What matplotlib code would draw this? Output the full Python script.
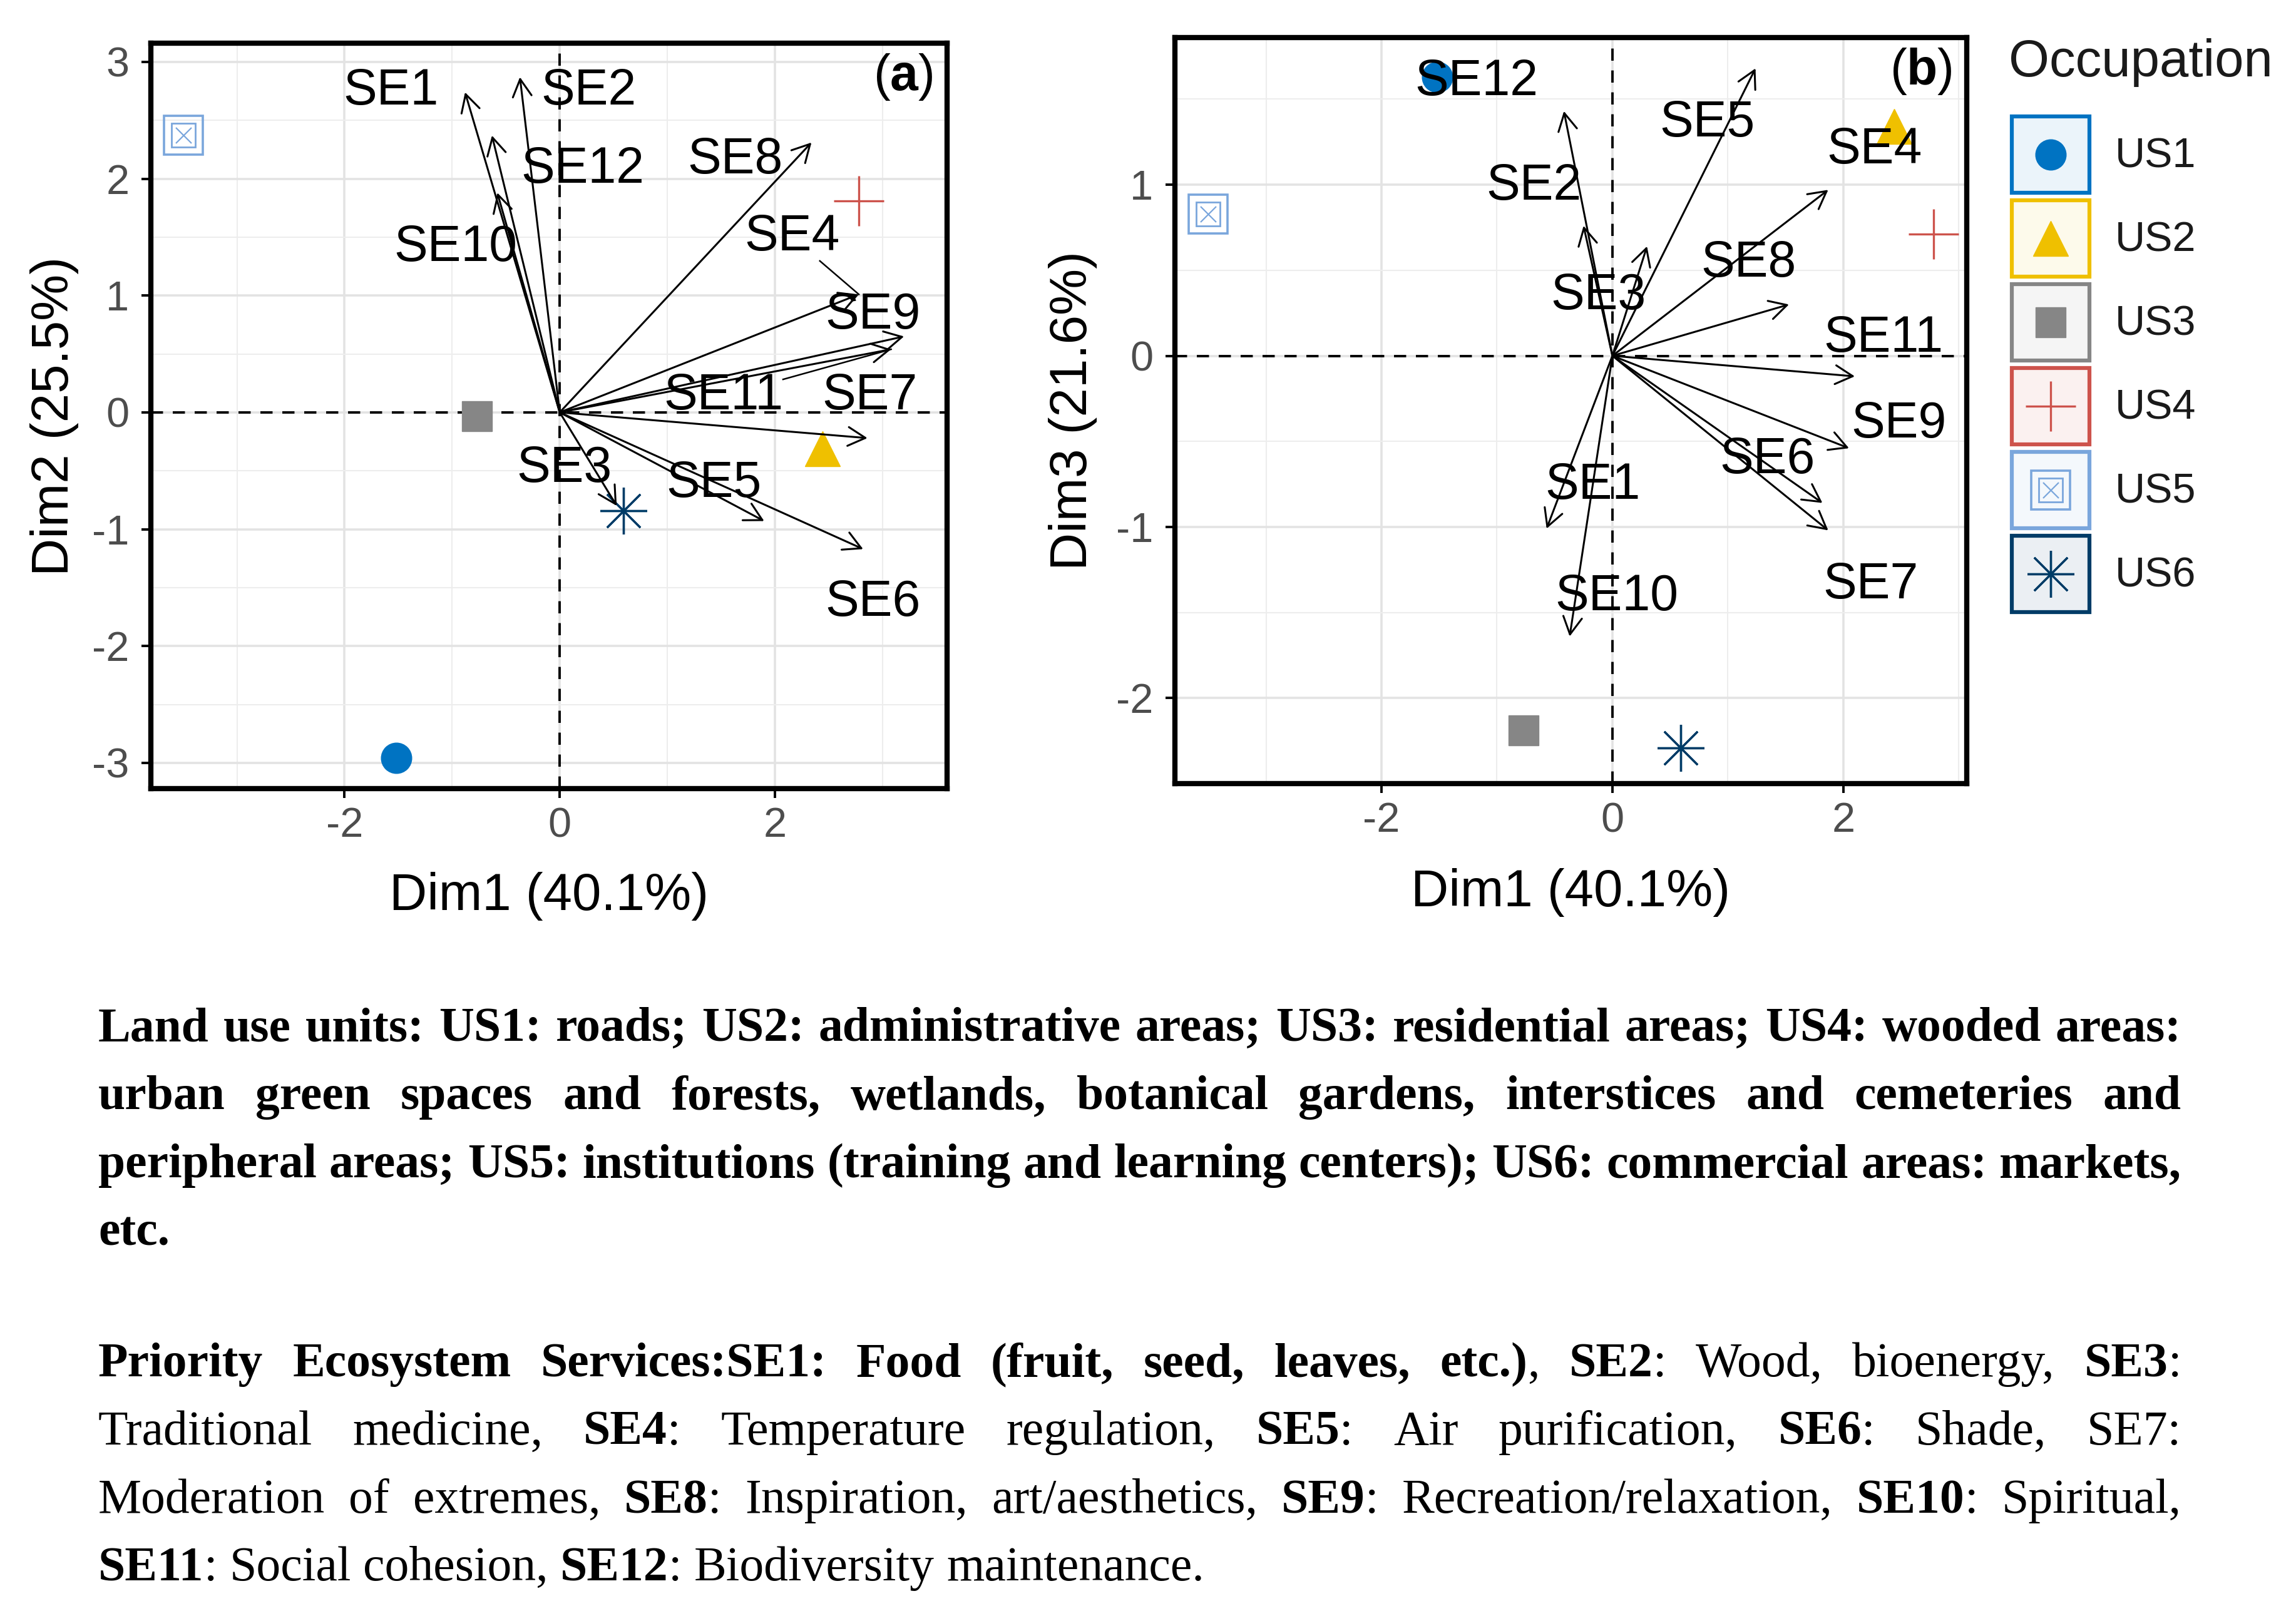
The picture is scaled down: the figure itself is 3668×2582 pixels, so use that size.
import numpy as np
import matplotlib
matplotlib.use('Agg')
import matplotlib.pyplot as plt
from matplotlib.patches import Rectangle

plt.rcParams['font.family'] = ['Liberation Sans', 'DejaVu Sans']
plt.rcParams['axes.unicode_minus'] = False
plt.rcParams['mathtext.fontset'] = 'custom'
plt.rcParams['mathtext.rm'] = 'Liberation Sans'
plt.rcParams['mathtext.bf'] = 'Liberation Sans:bold'

# individus : unites d'occupation du sol
units = ['US1', 'US2', 'US3', 'US4', 'US5', 'US6']
ind_dim1 = [-1.52, 2.44, -0.77, 2.78, -3.50, 0.59]
ind_dim2 = [-2.96, -0.31, -0.03, 1.81, 2.37, -0.84]
ind_dim3 = [1.63, 1.34, -2.19, 0.71, 0.83, -2.29]

# variables : services ecosystemiques (fleches)
services = ['SE1', 'SE2', 'SE3', 'SE4', 'SE5', 'SE6',
            'SE7', 'SE8', 'SE9', 'SE10', 'SE11', 'SE12']
# plan (a) Dim1 / Dim2
var_a_x = [-0.88, -0.37, 0.53, 2.78, 1.90, 2.82, 2.86, 2.34, 3.20, -0.58, 3.08, -0.63]
var_a_y = [2.74, 2.87, -0.80, 1.01, -0.93, -1.17, -0.22, 2.31, 0.65, 1.88, 0.54, 2.37]
# plan (b) Dim1 / Dim3
var_b_x = [-0.57, -0.25, 0.30, 1.87, 1.24, 1.82, 1.87, 1.53, 2.05, -0.37, 2.10, -0.42]
var_b_y = [-1.01, 0.76, 0.64, 0.97, 1.68, -0.86, -1.02, 0.30, -0.54, -1.64, -0.12, 1.43]

# positions des etiquettes (repel)
lab_a_x = [-1.57, 0.27, 0.04, 2.16, 1.43, 2.91, 2.88, 1.63, 2.91, -0.97, 1.52, 0.21]
lab_a_y = [2.75, 2.75, -0.48, 1.50, -0.61, -1.63, 0.14, 2.16, 0.83, 1.41, 0.14, 2.08]
lab_b_x = [-0.17, -0.68, -0.12, 2.27, 0.82, 1.34, 2.24, 1.18, 2.48, 0.04, 2.35, -1.18]
lab_b_y = [-0.76, 0.99, 0.35, 1.20, 1.36, -0.61, -1.34, 0.54, -0.40, -1.41, 0.10, 1.60]
segments_a = ['SE4', 'SE11']

unit_colors = ['#0073C2', '#EFC000', '#868686', '#CD534C', '#7AA6DC', '#003C67']

# legende du bas
para1 = [
    [("Land use units: US1: roads; US2: administrative areas; US3: residential areas; US4: wooded areas:", True)],
    [("urban green spaces and forests, wetlands, botanical gardens, interstices and cemeteries and", True)],
    [("peripheral areas; US5: institutions (training and learning centers); US6: commercial areas: markets,", True)],
    [("etc.", True)],
]
para2 = [
    [("Priority Ecosystem Services:SE1: Food (fruit, seed, leaves, etc.)", True), (", ", False),
     ("SE2", True), (": Wood, bioenergy, ", False), ("SE3", True), (":", False)],
    [("Traditional medicine, ", False), ("SE4", True), (": Temperature regulation, ", False),
     ("SE5", True), (": Air purification, ", False), ("SE6", True), (": Shade, SE7:", False)],
    [("Moderation of extremes, ", False), ("SE8", True), (": Inspiration, art/aesthetics, ", False),
     ("SE9", True), (": Recreation/relaxation, ", False), ("SE10", True), (": Spiritual,", False)],
    [("SE11", True), (": Social cohesion, ", False), ("SE12", True), (": Biodiversity maintenance.", False)],
]

W, H = 3668, 2582
fig = plt.figure(figsize=(W / 100, H / 100), dpi=100)


def draw_unit(ax, i, x, y, k=1.0):
    c = unit_colors[i]
    z = 3
    if i == 0:
        ax.plot(x, y, 'o', ms=35 * k, color=c, mec=c, zorder=z)
    elif i == 1:
        ax.plot(x, y, '^', ms=40 * k, color=c, mec=c, zorder=z)
    elif i == 2:
        ax.plot(x, y, 's', ms=34 * k, color=c, mec=c, zorder=z)
    elif i == 3:
        ax.plot(x, y, '+', ms=58 * k, mec=c, mew=2.4, zorder=z)
    elif i == 4:
        ax.plot(x, y, 's', ms=44 * k, mfc='none', mec=c, mew=2.6, zorder=z)
        ax.plot(x, y, 's', ms=27 * k, mfc='none', mec=c, mew=2.0, zorder=z)
        ax.plot(x, y, 'x', ms=18 * k, mec=c, mew=1.6, zorder=z)
    else:
        ax.plot(x, y, marker=(8, 2, 0), ms=54 * k, mfc='none', mec=c, mew=2.4, zorder=z)


def draw_panel(ax, ind_y, vx, vy, lx, ly, xlim, ylim, yticks, yminor, ylab, tag):
    ax.set_xlim(xlim)
    ax.set_ylim(ylim)
    ax.set_xticks([-2, 0, 2])
    ax.set_xticks([-3, -1, 1, 3], minor=True)
    ax.set_yticks(yticks)
    ax.set_yticks(yminor, minor=True)
    ax.grid(which='major', color='#E3E3E3', lw=2.6, zorder=0)
    ax.grid(which='minor', color='#EDEDED', lw=1.5, zorder=0)
    ax.set_axisbelow(True)
    ax.tick_params(which='major', length=11, width=2.8, color='black',
                   labelsize=48, labelcolor='#4D4D4D')
    ax.tick_params(axis='x', pad=10)
    ax.tick_params(axis='y', pad=14)
    ax.tick_params(which='minor', length=0)
    for sp in ax.spines.values():
        sp.set_linewidth(6)
        sp.set_color('black')
        sp.set_zorder(10)
    ax.axhline(0, color='black', lw=2.8, ls=(0, (5, 4)), zorder=1)
    ax.axvline(0, color='black', lw=2.8, ls=(0, (5, 4)), zorder=1)

    for i in range(len(units)):
        draw_unit(ax, i, ind_dim1[i], ind_y[i])

    for i in range(len(services)):
        ax.annotate('', xy=(vx[i], vy[i]), xytext=(0, 0),
                    arrowprops=dict(arrowstyle='->,head_length=0.5,head_width=0.27',
                                    lw=2.2, color='black', mutation_scale=40,
                                    shrinkA=0, shrinkB=0), zorder=4)
    texts = {}
    for i, s in enumerate(services):
        texts[s] = ax.text(lx[i], ly[i], s, ha='center', va='center',
                           fontsize=58, color='black', zorder=6)

    ax.set_xlabel('Dim1 (40.1%)', fontsize=60, color='black')
    ax.set_ylabel(ylab, fontsize=60, color='black')
    ax.text(0.982, 0.955, r'($\mathbf{%s}$)' % tag, transform=ax.transAxes,
            ha='right', va='center', fontsize=58, color='black', zorder=7)
    return texts


ax_a = fig.add_axes([241 / W, 1 - 1260 / H, (1513 - 241) / W, (1260 - 69) / H])
ax_b = fig.add_axes([1877 / W, 1 - 1252 / H, (3142 - 1877) / W, (1252 - 60) / H])

texts_a = draw_panel(ax_a, ind_dim2, var_a_x, var_a_y, lab_a_x, lab_a_y,
                     (-3.80, 3.60), (-3.22, 3.16), [-3, -2, -1, 0, 1, 2, 3],
                     np.arange(-3, 3.01, 0.5), 'Dim2 (25.5%)', 'a')
texts_b = draw_panel(ax_b, ind_dim3, var_b_x, var_b_y, lab_b_x, lab_b_y,
                     (-3.79, 3.07), (-2.46, 1.86), [-2, -1, 0, 1],
                     np.arange(-2.5, 1.51, 0.5), 'Dim3 (21.6%)', 'b')

ax_a.xaxis.set_label_coords(0.5, -0.144)
ax_a.xaxis.label.set_va('center')
ax_a.yaxis.set_label_coords(-0.121, 0.5)
ax_a.yaxis.label.set_va('center')
ax_b.xaxis.set_label_coords(0.5, -0.146)
ax_b.xaxis.label.set_va('center')
ax_b.yaxis.set_label_coords(-0.129, 0.5)
ax_b.yaxis.label.set_va('center')

# legende "Occupation"
ax_leg = fig.add_axes([0, 0, 1, 1], facecolor='none')
ax_leg.set_xlim(0, W)
ax_leg.set_ylim(H, 0)
ax_leg.axis('off')
ax_leg.text(3209, 100, 'Occupation', fontsize=60, color='#1A1A1A', ha='left', va='center')
for i, u in enumerate(units):
    cy = 247 + 134 * i
    c = unit_colors[i]
    ax_leg.add_patch(Rectangle((3214, cy - 61), 124, 122, facecolor=c, alpha=0.08, lw=0))
    ax_leg.add_patch(Rectangle((3214, cy - 61), 124, 122, facecolor='none', edgecolor=c, lw=4.5))
    draw_unit(ax_leg, i, 3276, cy, k=1.0)
    ax_leg.text(3379, cy + 4, u, fontsize=48, color='#1A1A1A', ha='left', va='center')

# segments ggrepel
fig.canvas.draw()
renderer = fig.canvas.get_renderer()
for s in segments_a:
    i = services.index(s)
    bb = texts_a[s].get_window_extent(renderer).transformed(ax_a.transData.inverted())
    cx, cy = lab_a_x[i], lab_a_y[i]
    tx, ty = var_a_x[i], var_a_y[i]
    dx, dy = tx - cx, ty - cy
    ts = []
    if dx != 0:
        ts.append(((bb.x1 if dx > 0 else bb.x0) - cx) / dx)
    if dy != 0:
        ts.append(((bb.y1 if dy > 0 else bb.y0) - cy) / dy)
    t0 = min(ts)
    ax_a.plot([cx + t0 * dx, tx], [cy + t0 * dy, ty], color='black', lw=1.8, zorder=4)

# texte justifie sous la figure
left_px, right_px = 157, 3485
avail = right_px - left_px


def words_of(runs):
    words = [[]]
    for txt, bold in runs:
        parts = txt.split(' ')
        for j, p in enumerate(parts):
            if j > 0:
                words.append([])
            if p:
                words[-1].append((p, bold))
    return [w for w in words if w]


def frag_width(txt, bold, size):
    t = fig.text(0, 0, txt, fontsize=size, family='Liberation Serif',
                 weight='bold' if bold else 'normal')
    w = t.get_window_extent(renderer).width
    t.remove()
    return w


def natural_width(runs, size):
    ws = words_of(runs)
    tot = sum(frag_width(f, b, size) for w in ws for f, b in w)
    sp = frag_width('a a', True, size) - frag_width('aa', True, size)
    return tot + sp * (len(ws) - 1)


base = 50
widest = max(natural_width(r, base) for r in [para1[0], para1[2], para2[2]])
fsize = base * avail / widest


def draw_line(runs, baseline_px, justify):
    ws = words_of(runs)
    widths = [[frag_width(f, b, fsize) for f, b in w] for w in ws]
    tot = sum(sum(w) for w in widths)
    if justify and len(ws) > 1:
        gap = (avail - tot) / (len(ws) - 1)
    else:
        gap = frag_width('a a', True, fsize) - frag_width('aa', True, fsize)
    x = left_px
    for w, wd in zip(ws, widths):
        for (f, b), fw in zip(w, wd):
            fig.text(x / W, 1 - baseline_px / H, f, fontsize=fsize, family='Liberation Serif',
                     weight='bold' if b else 'normal', color='black', va='baseline', ha='left')
            x += fw
        x += gap


base1 = [1663, 1772, 1881, 1990]
base2 = [2199, 2308, 2417, 2525]
for k, runs in enumerate(para1):
    draw_line(runs, base1[k], k < len(para1) - 1)
for k, runs in enumerate(para2):
    draw_line(runs, base2[k], k < len(para2) - 1)

fig.savefig('out.png', dpi=100, facecolor='white')
